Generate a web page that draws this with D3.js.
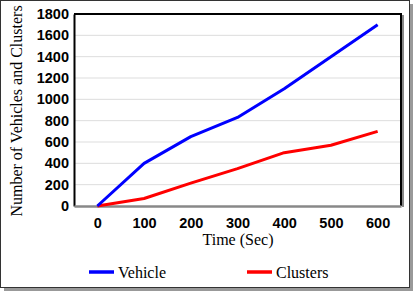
<!DOCTYPE html>
<html>
<head>
<meta charset="utf-8">
<script src="https://cdn.jsdelivr.net/npm/d3@7"></script>
<style>
  body { margin: 0; background: #fff; }
  svg { display: block; }
</style>
</head>
<body>
<div id="chart"></div>
<script>
// datos del grafico
const times = [0, 100, 200, 300, 400, 500, 600];
const vehicle = [0, 400, 650, 830, 1100, 1400, 1700];
const clusters = [0, 70, 215, 350, 500, 570, 700];
const yTicks = [0, 200, 400, 600, 800, 1000, 1200, 1400, 1600, 1800];

const width = 415;
const height = 293;
const margin = { top: 14, right: 14, bottom: 87, left: 74 };

const svg = d3.select("#chart").append("svg")
    .attr("width", width)
    .attr("height", height);

// marco exterior con sombra
svg.append("rect")
    .attr("x", 4).attr("y", 4)
    .attr("width", 409).attr("height", 287)
    .attr("fill", "#999");
svg.append("rect")
    .attr("x", 0.5).attr("y", 0.5)
    .attr("width", 409).attr("height", 287)
    .attr("fill", "#fff")
    .attr("stroke", "#333")
    .attr("stroke-width", 1);

const x = d3.scaleLinear()
    .domain([-50, 650])
    .range([margin.left, 401]);

const y = d3.scaleLinear()
    .domain([0, 1800])
    .range([206, margin.top]);

// rejilla
svg.append("g")
    .selectAll("line")
    .data(yTicks.filter(d => d > 0))
    .enter().append("line")
    .attr("x1", margin.left).attr("x2", 401)
    .attr("y1", d => y(d)).attr("y2", d => y(d))
    .attr("stroke", "#ddd")
    .attr("stroke-width", 1);

// marco del area de trazado
svg.append("line")
    .attr("x1", 403).attr("x2", 403)
    .attr("y1", y(1800) + 1).attr("y2", y(0) + 1)
    .attr("stroke", "#888").attr("stroke-width", 2);
svg.append("line")
    .attr("x1", margin.left).attr("x2", 402)
    .attr("y1", y(1800)).attr("y2", y(1800))
    .attr("stroke", "#000").attr("stroke-width", 2);
svg.append("line")
    .attr("x1", 401).attr("x2", 401)
    .attr("y1", y(1800)).attr("y2", y(0))
    .attr("stroke", "#000").attr("stroke-width", 2);

// ejes
const yAxis = svg.append("g")
    .attr("transform", `translate(${margin.left},0)`)
    .call(d3.axisLeft(y).tickValues(yTicks).tickFormat(d3.format("d")).tickSize(0).tickPadding(5));
yAxis.select(".domain").attr("stroke", "#000").attr("stroke-width", 2);
yAxis.selectAll("text")
    .attr("font-family", "Liberation Sans, Arial, sans-serif")
    .attr("font-weight", "bold")
    .attr("font-size", "14.5px")
    .attr("fill", "#000");

const xAxis = svg.append("g")
    .attr("transform", `translate(0,${y(0)})`)
    .call(d3.axisBottom(x).tickValues(times).tickFormat(d3.format("d")).tickSize(0).tickPadding(12));
xAxis.select(".domain").attr("stroke", "#888").attr("stroke-width", 2.5);
xAxis.selectAll("text")
    .attr("font-family", "Liberation Sans, Arial, sans-serif")
    .attr("font-weight", "bold")
    .attr("font-size", "14.5px")
    .attr("fill", "#000");

// lineas
const line = d3.line()
    .x((d, i) => x(times[i]))
    .y(d => y(d));

svg.append("path")
    .datum(clusters)
    .attr("fill", "none")
    .attr("stroke", "#ff0000")
    .attr("stroke-width", 3)
    .attr("stroke-linejoin", "round")
    .attr("d", line);

svg.append("path")
    .datum(vehicle)
    .attr("fill", "none")
    .attr("stroke", "#0000ff")
    .attr("stroke-width", 3)
    .attr("stroke-linejoin", "round")
    .attr("d", line);

// titulos de ejes
svg.append("text")
    .attr("x", 238)
    .attr("y", 245)
    .attr("text-anchor", "middle")
    .attr("font-family", "Liberation Serif, Times New Roman, serif")
    .attr("font-size", "16px")
    .text("Time (Sec)");

svg.append("text")
    .attr("transform", `translate(22,111) rotate(-90)`)
    .attr("text-anchor", "middle")
    .attr("font-family", "Liberation Serif, Times New Roman, serif")
    .attr("font-size", "16px")
    .text("Number of Vehicles and Clusters");

// leyenda
const legend = [
    { name: "Vehicle", color: "#0000ff", x: 89 },
    { name: "Clusters", color: "#ff0000", x: 247 }
];
const lg = svg.selectAll(".legend")
    .data(legend)
    .enter().append("g")
    .attr("class", "legend")
    .attr("transform", d => `translate(${d.x},272)`);
lg.append("line")
    .attr("x1", 0).attr("x2", 25)
    .attr("stroke", d => d.color)
    .attr("stroke-width", 3.5);
lg.append("text")
    .attr("x", 29)
    .attr("dy", "0.35em")
    .attr("font-family", "Liberation Serif, Times New Roman, serif")
    .attr("font-size", "16px")
    .text(d => d.name);
</script>
</body>
</html>
